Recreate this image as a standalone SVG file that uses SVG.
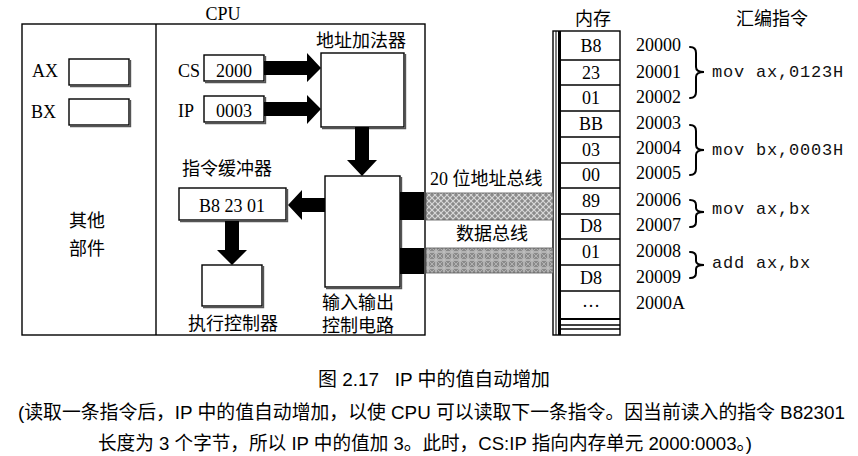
<svg xmlns="http://www.w3.org/2000/svg" width="858" height="456" viewBox="0 0 858 456">
<style>
.bx{fill:#fff;stroke:#000;stroke-width:1.4}
.sh{fill:none;stroke:#555;stroke-width:1.4}
.ln{stroke:#000;fill:none}
.t{font-family:"Liberation Serif","Noto Sans CJK SC",serif;font-size:18px;fill:#000}
.c{text-anchor:middle}
.m{font-family:"Liberation Mono",monospace;font-size:17px;fill:#111;letter-spacing:0.8px}
.cap{font-family:"Liberation Sans","Noto Sans CJK SC",sans-serif;font-size:19px;fill:#000;white-space:pre}
.ar{fill:#000}
.br{fill:none;stroke:#000;stroke-width:2;stroke-linecap:round}
</style>
<defs>
<pattern id="hatch" width="6" height="6" patternUnits="userSpaceOnUse">
<rect width="6" height="6" fill="#8a8a8a"/>
<path d="M0,0 L6,6 M6,0 L0,6" stroke="#d8d8d8" stroke-width="1.2"/>
</pattern>
<pattern id="hatch2" width="8" height="8" patternUnits="userSpaceOnUse">
<rect width="8" height="8" fill="#8a8a8a"/>
<path d="M0,4 H8 M4,0 V8" stroke="#dcdcdc" stroke-width="1"/>
<path d="M0,0 L8,8 M8,0 L0,8" stroke="#bbb" stroke-width="0.8"/>
</pattern>
</defs>
<rect width="858" height="456" fill="#fff"/>

<g id="cpu">
<rect x="22" y="24" width="403" height="311" class="bx"/>
<line x1="156" y1="24" x2="156" y2="335" class="ln" stroke-width="1.4"/>
<text x="223" y="20" class="t c">CPU</text>
</g>

<g id="ax">
<text x="32" y="77" class="t">AX</text>
<rect x="69" y="59" width="60" height="26" class="bx"/>
<path d="M70,86.5 H130.5 V60" class="sh"/>
</g>
<g id="bx">
<text x="31" y="118" class="t">BX</text>
<rect x="69" y="99" width="60" height="26" class="bx"/>
<path d="M70,126.5 H130.5 V100" class="sh"/>
</g>
<g id="other">
<text x="87" y="227" class="t c">其他</text>
<text x="87" y="255" class="t c">部件</text>
</g>

<g id="cs">
<text x="178" y="77" class="t">CS</text>
<rect x="204" y="55" width="60" height="26" class="bx"/>
<path d="M205,82.5 H265.5 V56" class="sh"/>
<text x="234" y="77" class="t c">2000</text>
</g>
<g id="ip">
<text x="178" y="117" class="t">IP</text>
<rect x="204" y="96" width="60" height="26" class="bx"/>
<path d="M205,123.5 H265.5 V97" class="sh"/>
<text x="234" y="117" class="t c">0003</text>
</g>

<g id="adder">
<text x="361" y="47" class="t c">地址加法器</text>
<rect x="321" y="53" width="83" height="74" class="bx"/>
<path d="M322,128.5 H405.5 V54" class="sh"/>
</g>

<g id="io">
<rect x="325" y="176" width="75" height="111" class="bx"/>
<path d="M326,288.5 H401.5 V177" class="sh"/>
<text x="358" y="309" class="t c">输入输出</text>
<text x="358" y="332" class="t c">控制电路</text>
</g>

<g id="buffer">
<text x="182" y="175" class="t">指令缓冲器</text>
<rect x="179" y="188" width="107" height="32" class="bx"/>
<path d="M180,221.5 H287.5 V189" class="sh"/>
<text x="232" y="212" class="t c">B8 23 01</text>
</g>

<g id="exec">
<rect x="202" y="265" width="60" height="41" class="bx"/>
<path d="M203,307.5 H263.5 V266" class="sh"/>
<text x="233" y="330" class="t c">执行控制器</text>
</g>

<g id="memory">
<text x="593" y="25" class="t c">内存</text>
<rect x="553" y="31" width="67" height="304" class="bx"/>
<line x1="556" y1="31" x2="556" y2="335" class="ln" stroke-width="1"/>
<rect x="558" y="31" width="3" height="304" fill="#000"/>
<g class="ln" stroke-width="1.3">
<line x1="561" y1="60" x2="620" y2="60"/>
<line x1="561" y1="85" x2="620" y2="85"/>
<line x1="561" y1="111" x2="620" y2="111"/>
<line x1="561" y1="137" x2="620" y2="137"/>
<line x1="561" y1="163" x2="620" y2="163"/>
<line x1="561" y1="188" x2="620" y2="188"/>
<line x1="561" y1="214" x2="620" y2="214"/>
<line x1="561" y1="239" x2="620" y2="239"/>
<line x1="561" y1="265" x2="620" y2="265"/>
<line x1="561" y1="291" x2="620" y2="291"/>
<line x1="561" y1="319" x2="620" y2="319" stroke-width="2"/>
<line x1="561" y1="325" x2="620" y2="325"/>
<line x1="561" y1="329" x2="620" y2="329"/>
</g>
<g class="t c">
<text x="591" y="52">B8</text>
<text x="591" y="79">23</text>
<text x="591" y="104">01</text>
<text x="591" y="130">BB</text>
<text x="591" y="156">03</text>
<text x="591" y="181">00</text>
<text x="591" y="207">89</text>
<text x="591" y="232">D8</text>
<text x="591" y="258">01</text>
<text x="591" y="284">D8</text>
<text x="591" y="307">…</text>
</g>
<g class="t">
<text x="636" y="51">20000</text>
<text x="636" y="78">20001</text>
<text x="636" y="103">20002</text>
<text x="636" y="129">20003</text>
<text x="636" y="154">20004</text>
<text x="636" y="179">20005</text>
<text x="636" y="206">20006</text>
<text x="636" y="231">20007</text>
<text x="636" y="257">20008</text>
<text x="636" y="283">20009</text>
<text x="636" y="309">2000A</text>
</g>
</g>

<g id="asm">
<text x="772" y="25" class="t c">汇编指令</text>
<path d="M690,47 Q696,47 696,53 L696,67 Q696,72 704,72 Q696,72 696,77 L696,92 Q696,98 690,98" class="br"/>
<text x="712" y="77" class="m">mov ax,0123H</text>
<path d="M690,125 Q696,125 696,131 L696,145 Q696,150 704,150 Q696,150 696,155 L696,169 Q696,175 690,175" class="br"/>
<text x="712" y="155" class="m">mov bx,0003H</text>
<path d="M690,200 Q696,200 696,205 L696,208 Q696,212 704,212 Q696,212 696,216 L696,222 Q696,227 690,227" class="br"/>
<text x="712" y="214" class="m">mov ax,bx</text>
<path d="M690,252 Q696,252 696,257 L696,261 Q696,265 704,265 Q696,265 696,269 L696,273 Q696,278 690,278" class="br"/>
<text x="712" y="268" class="m">add ax,bx</text>
</g>

<g id="connectors">
<polygon class="ar" points="264,61 307,61 307,53 321,68 307,82 307,75 264,75"/>
<polygon class="ar" points="264,102 307,102 307,95 321,109 307,124 307,116 264,116"/>
<polygon class="ar" points="355,127 369,127 369,160 377,160 362,176 347,160 355,160"/>
<polygon class="ar" points="325,198 302,198 302,190 288,205 302,220 302,212 325,212"/>
<polygon class="ar" points="225,221 239,221 239,250 247,250 232,265 217,250 225,250"/>
<rect x="400" y="192" width="24" height="28" fill="#000"/>
<rect x="400" y="248" width="24" height="26" fill="#000"/>
<rect x="426" y="193" width="127" height="27" fill="url(#hatch)" stroke="#555" stroke-width="0.8"/>
<rect x="426" y="248" width="127" height="25" fill="url(#hatch2)" stroke="#555" stroke-width="0.8"/>
<text x="430" y="185" class="t">20 位地址总线</text>
<text x="492" y="240" class="t c">数据总线</text>
</g>

<g id="caption">
<text x="318" y="386" class="cap" xml:space="preserve" textLength="232" lengthAdjust="spacingAndGlyphs">图 2.17   IP 中的值自动增加</text>
<text x="18" y="419" class="cap" textLength="827" lengthAdjust="spacingAndGlyphs">(读取一条指令后，IP 中的值自动增加，以使 CPU 可以读取下一条指令。因当前读入的指令 B82301</text>
<text x="98" y="450" class="cap" textLength="654" lengthAdjust="spacingAndGlyphs">长度为 3 个字节，所以 IP 中的值加 3。此时，CS:IP 指向内存单元 2000:0003。)</text>
</g>
</svg>
